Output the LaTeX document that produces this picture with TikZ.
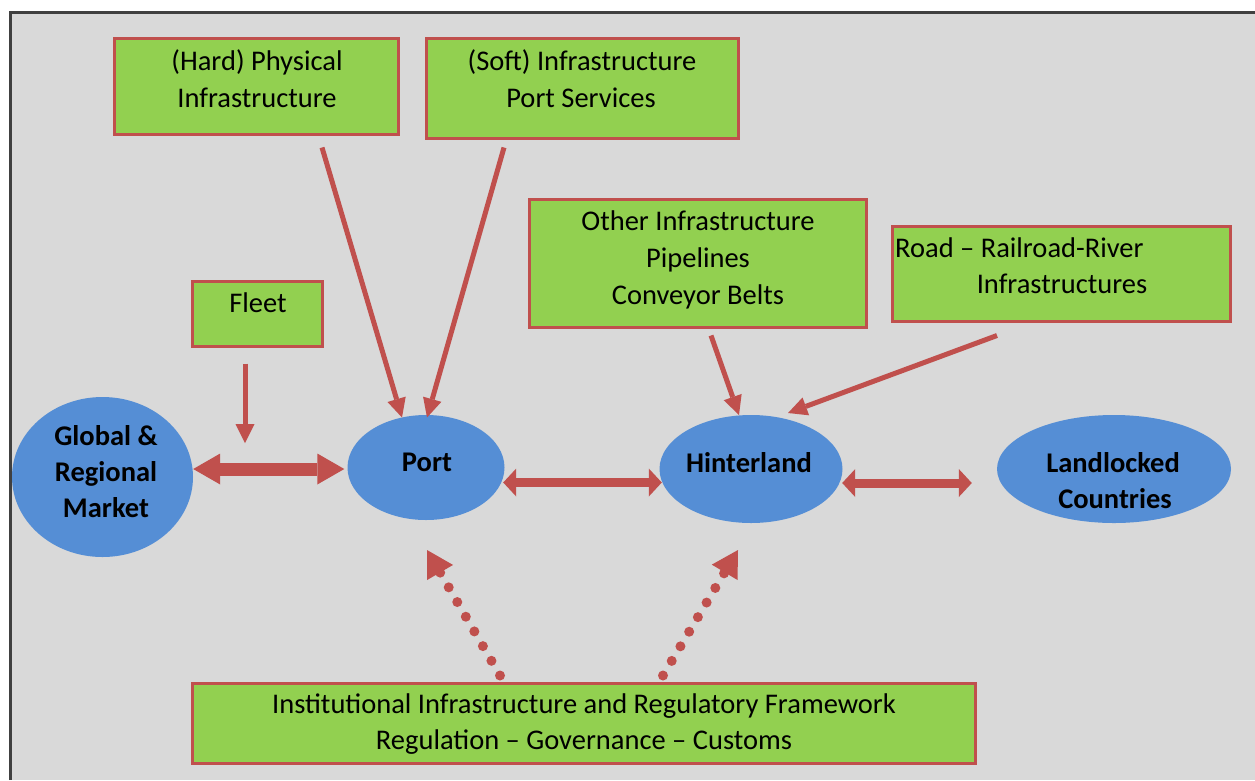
\documentclass[tikz,border=0pt]{standalone}
\usepackage{fontspec}
\setmainfont{Carlito}
\usetikzlibrary{arrows.meta,shapes.geometric,calc}
\definecolor{bgc}{HTML}{D9D9D9}
\definecolor{framec}{HTML}{404040}
\definecolor{boxgreen}{HTML}{92D050}
\definecolor{boxred}{HTML}{C0504D}
\definecolor{arrred}{HTML}{C0504D}
\definecolor{ellblue}{HTML}{558ED5}
\tikzset{
  box/.style={draw=boxred, fill=boxgreen, line width=3pt, inner sep=0pt},
  ell/.style={ellipse, fill=ellblue, inner sep=0pt},
  txt/.style={inner sep=0pt, anchor=base, font=\fontsize{28.5}{37}\selectfont},
  etxt/.style={inner sep=0pt, anchor=base, font=\fontsize{28.5}{36}\selectfont\bfseries, text=black},
  thinarrow/.style={draw=arrred, line width=5pt, -{Triangle[length=19pt,width=19pt,line width=0pt]}},
  bigarrow/.style={draw=arrred, line width=13pt, {Triangle[length=27pt,width=31pt,line width=0pt]}-{Triangle[length=27pt,width=31pt,line width=0pt]}},
  midarrow/.style={draw=arrred, line width=9pt, {Triangle[length=13pt,width=28pt,line width=0pt]}-{Triangle[length=13pt,width=28pt,line width=0pt]}},
  dotarrow/.style={draw=arrred, line width=10pt, line cap=round, dash pattern=on 0pt off 17pt, -{Triangle[length=26pt,width=30pt,line width=0pt]}}
}
\begin{document}
\begin{tikzpicture}[x=1pt,y=-1pt]
\useasboundingbox (0,0) rectangle (1255,780);
\fill[bgc] (10,12) rectangle (1255,780);
\draw[framec, line width=3pt] (10.5,780) -- (10.5,12) -- (1255,12);

% boxes
\node[box, minimum width=284pt, minimum height=96pt] (hard) at (256,86) {};
\node[txt] (hard1) at (257,70) {(Hard) Physical};
\node[txt] (hard2) at (257,107) {Infrastructure};

\node[box, minimum width=312pt, minimum height=100pt] (soft) at (582,88) {};
\node[txt] (soft1) at (582,70) {(Soft) Infrastructure};
\node[txt] (soft2) at (581,107) {Port Services};

\node[box, minimum width=130pt, minimum height=65pt] (fleet) at (257,313.5) {};
\node[txt] (fleet1) at (258,312) {Fleet};

\node[box, minimum width=337pt, minimum height=128pt] (other) at (697.5,263) {};
\node[txt] (other1) at (698,230) {Other Infrastructure};
\node[txt] (other2) at (698,267) {Pipelines};
\node[txt] (other3) at (698,304) {Conveyor Belts};

\node[box, minimum width=338pt, minimum height=95pt] (road) at (1061,273.5) {};
\node[txt, anchor=base west] (road1) at (895,257) {Road -- Railroad-River};
\node[txt] (road2) at (1062,293) {Infrastructures};

\node[box, minimum width=783pt, minimum height=80pt] (inst) at (583.5,723) {};
\node[txt] (inst1) at (584,713) {Institutional Infrastructure and Regulatory Framework};
\node[txt] (inst2) at (584,749) {Regulation -- Governance -- Customs};

% ellipses
\node[ell, minimum width=181pt, minimum height=160pt] (global) at (102.5,477) {};
\node[etxt] (global1) at (106,445) {Global \&};
\node[etxt] (global2) at (106,481) {Regional};
\node[etxt] (global3) at (106,517) {Market};

\node[ell, minimum width=157pt, minimum height=105pt] (port) at (426,467.5) {};
\node[etxt] (port1) at (427,471) {Port};

\node[ell, minimum width=183pt, minimum height=108pt] (hint) at (751,469) {};
\node[etxt] (hint1) at (749,472) {Hinterland};

\node[ell, minimum width=234pt, minimum height=108pt] (land) at (1114,469) {};
\node[etxt] (land1) at (1113,472) {Landlocked};
\node[etxt] (land2) at (1115,508) {Countries};

\coordinate (fleettip) at (245,443);

% connectors
\draw[thinarrow] ($(hard.south)+(66,12)$) -- ($(port)+(-24,-50)$);
\draw[thinarrow] ($(soft.south)+(-78,8)$) -- ($(port)+(1,-50)$);
\draw[thinarrow] ($(fleet.south)+(-12,16)$) -- (fleettip);
\draw[thinarrow] ($(other.south)+(13.5,7)$) -- ($(hint)+(-12,-54)$);
\draw[thinarrow] ($(road.south)+(-64,13)$) -- ($(hint)+(37,-56)$);

\draw[bigarrow] ($(global.east)+(0,-8)$) -- ($(port.west)+(-3,1.5)$);
\draw[midarrow] ($(port.east)+(-1.5,15)$) -- ($(hint.west)+(2.5,13.5)$);
\draw[midarrow] ($(hint.east)+(-0.5,14)$) -- ($(land.west)+(-25,14)$);

\draw[dotarrow] ($(inst.north)+(-83.5,-6)$) -- ($(port)+(1,82.5)$);
\draw[dotarrow] ($(inst.north)+(79.5,-6)$) -- ($(hint)+(-13,81)$);
\end{tikzpicture}
\end{document}
